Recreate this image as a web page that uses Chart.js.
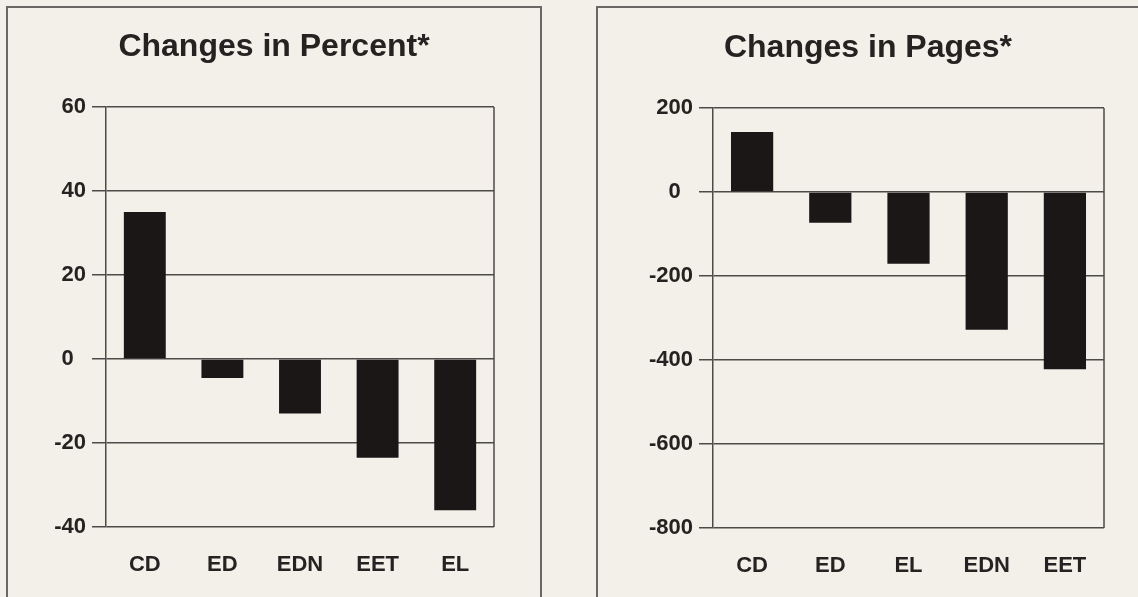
<!DOCTYPE html>
<html>
<head>
<meta charset="utf-8">
<script src="https://cdn.jsdelivr.net/npm/chart.js@4.4.1/dist/chart.umd.min.js"></script>
<style>
  html, body { margin: 0; padding: 0; background: #f3f0ea; overflow: hidden; width: 1138px; height: 597px; }
  .panel { position: absolute; top: 6px; height: 640px; border: 2px solid #6b6765; }
  #leftPanel { left: 6px; width: 532px; }
  #rightPanel { left: 596px; width: 620px; }
  .box { position: absolute; height: 589px; }
  #leftBox { left: 8px; top: 8px; width: 532px; }
  #rightBox { left: 598px; top: 9px; width: 540px; }
</style>
</head>
<body>
<div class="panel" id="leftPanel"></div>
<div class="panel" id="rightPanel"></div>
<div class="box" id="leftBox"><canvas id="percentChart"></canvas></div>
<div class="box" id="rightBox"><canvas id="pagesChart"></canvas></div>
<script>
// left chart: changes in percent
const percentLabels = ['CD', 'ED', 'EDN', 'EET', 'EL'];
const percentValues = [35, -4.5, -13, -23.5, -36];
const percentTicks = { min: -40, max: 60, step: 20 };

// right chart: changes in pages
const pagesLabels = ['CD', 'ED', 'EL', 'EDN', 'EET'];
const pagesValues = [143, -73, -171, -328, -422];
const pagesTicks = { min: -800, max: 200, step: 200 };

const ink = '#262222';
const gridColor = '#4f4a48';
const barColor = '#1b1717';

Chart.defaults.font.family = "'Liberation Sans', Arial, sans-serif";
Chart.defaults.color = ink;

// closes the plot frame on the right side
const framePlugin = {
  id: 'frame',
  beforeDatasetsDraw(chart) {
    const a = chart.chartArea;
    const ctx = chart.ctx;
    ctx.save();
    ctx.strokeStyle = gridColor;
    ctx.lineWidth = 1.5;
    ctx.beginPath();
    ctx.moveTo(a.right, a.top);
    ctx.lineTo(a.right, a.bottom);
    ctx.stroke();
    ctx.restore();
  }
};

function makeChart(canvas, title, labels, values, ticks, sidePad, axisWidth) {
  return new Chart(canvas, {
    type: 'bar',
    data: {
      labels: labels,
      datasets: [{
        data: values,
        backgroundColor: barColor,
        borderWidth: 0,
        categoryPercentage: 1,
        barPercentage: 0.54
      }]
    },
    options: {
      responsive: true,
      maintainAspectRatio: false,
      animation: false,
      layout: { padding: { left: sidePad, right: sidePad, top: 0, bottom: 0 } },
      plugins: {
        legend: { display: false },
        tooltip: { enabled: false },
        title: {
          display: true,
          text: title,
          color: ink,
          font: { size: 32, weight: 'bold' },
          padding: { top: 20, bottom: 40.6 }
        }
      },
      scales: {
        x: {
          grid: { display: false, drawTicks: false },
          border: { display: false },
          ticks: { padding: 25, color: ink, font: { size: 22, weight: 'bold' } },
          afterFit: (s) => { s.height = 70; }
        },
        y: {
          min: ticks.min,
          max: ticks.max,
          grid: { color: gridColor, lineWidth: 1.5, tickLength: 14, drawTicks: true },
          border: { display: true, color: gridColor, width: 1.5 },
          ticks: {
            stepSize: ticks.step,
            padding: 6,
            color: ink,
            font: { size: 22, weight: 'bold' },
            callback: (v) => (v === 0 ? '0\u2007' : v)
          },
          afterFit: (s) => { s.width = axisWidth; }
        }
      }
    },
    plugins: [framePlugin]
  });
}

document.addEventListener('DOMContentLoaded', function () {
  makeChart(document.getElementById('percentChart'), 'Changes in Percent*',
    percentLabels, percentValues, percentTicks, 46, 52);
  makeChart(document.getElementById('pagesChart'), 'Changes in Pages*',
    pagesLabels, pagesValues, pagesTicks, 34, 81);
});
</script>
</body>
</html>
